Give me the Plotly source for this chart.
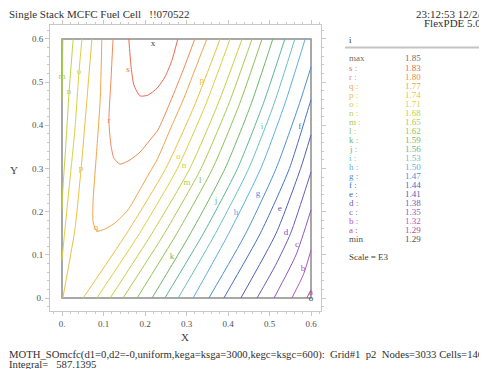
import plotly.graph_objects as go

# ---------------- data ----------------
level_names = ["a", "b", "c", "d", "e", "f", "g", "h", "i", "j",
               "k", "l", "m", "n", "o", "p", "q", "r", "s"]
level_values = [1.29, 1.32, 1.35, 1.38, 1.41, 1.44, 1.47, 1.50, 1.53, 1.56,
                1.59, 1.62, 1.65, 1.68, 1.71, 1.74, 1.77, 1.80, 1.83]
max_value = 1.85
min_value = 1.29

x_tick_vals = [0, 0.1, 0.2, 0.3, 0.4, 0.5, 0.6]
x_tick_text = ["0.", "0.1", "0.2", "0.3", "0.4", "0.5", "0.6"]
y_tick_vals = [0, 0.1, 0.2, 0.3, 0.4, 0.5, 0.6]
y_tick_text = ["0.", "0.1", "0.2", "0.3", "0.4", "0.5", "0.6"]

# contour paths (x, y)
s_x = [0.161, 0.166, 0.173, 0.188, 0.207, 0.229, 0.248, 0.265, 0.279]
s_y = [0.600, 0.540, 0.494, 0.468, 0.470, 0.486, 0.512, 0.551, 0.600]
r_x = [0.123, 0.118, 0.113, 0.118, 0.125, 0.140, 0.164, 0.188, 0.212, 0.231, 0.263, 0.292, 0.320]
r_y = [0.600, 0.505, 0.410, 0.354, 0.324, 0.310, 0.320, 0.338, 0.366, 0.389, 0.459, 0.528, 0.600]
q_x = [0.096, 0.092, 0.082, 0.075, 0.075, 0.084, 0.104, 0.128, 0.159, 0.183, 0.212, 0.229, 0.260, 0.292, 0.320, 0.349]
q_y = [0.600, 0.459, 0.320, 0.227, 0.176, 0.155, 0.160, 0.174, 0.204, 0.243, 0.292, 0.320, 0.389, 0.459, 0.528, 0.600]
p_left_x = [0.072, 0.060, 0.046, 0.031, 0.012, 0.002]
p_left_y = [0.600, 0.459, 0.299, 0.158, 0.053, 0.000]
p_x = [0.381, 0.321, 0.250, 0.156, 0.051]
p_y = [0.600, 0.450, 0.300, 0.150, 0.000]
o_left_x = [0.048, 0.041, 0.031, 0.019, 0.007, 0.000]
o_left_y = [0.600, 0.524, 0.389, 0.273, 0.158, 0.088]
o_x = [0.405, 0.347, 0.278, 0.187, 0.084]
o_y = [0.600, 0.450, 0.300, 0.150, 0.000]
n_left_x = [0.027, 0.017, 0.010, 0.002, 0.000]
n_left_y = [0.600, 0.477, 0.366, 0.250, 0.204]
n_x = [0.434, 0.376, 0.308, 0.217, 0.116]
n_y = [0.600, 0.450, 0.300, 0.150, 0.000]
m_left_x = [0.002, 0.001, 0.000]
m_left_y = [0.600, 0.512, 0.459]
m_x = [0.458, 0.402, 0.335, 0.247, 0.147]
m_y = [0.600, 0.450, 0.300, 0.150, 0.000]
l_x = [0.482, 0.428, 0.363, 0.277, 0.181]
l_y = [0.600, 0.450, 0.300, 0.150, 0.000]
k_x = [0.508, 0.456, 0.393, 0.310, 0.217]
k_y = [0.600, 0.450, 0.300, 0.150, 0.000]
j_x = [0.537, 0.485, 0.423, 0.341, 0.248]
j_y = [0.600, 0.450, 0.300, 0.150, 0.000]
i_x = [0.561, 0.511, 0.450, 0.370, 0.280]
i_y = [0.600, 0.450, 0.300, 0.150, 0.000]
h_x = [0.586, 0.537, 0.479, 0.402, 0.316]
h_y = [0.600, 0.450, 0.300, 0.150, 0.000]
g_x = [0.600, 0.572, 0.516, 0.443, 0.354]
g_y = [0.535, 0.450, 0.300, 0.150, 0.000]
f_x = [0.600, 0.597, 0.548, 0.478, 0.390]
f_y = [0.459, 0.450, 0.300, 0.150, 0.000]
e_x = [0.600, 0.575, 0.516, 0.431]
e_y = [0.378, 0.300, 0.150, 0.000]
d_x = [0.600, 0.551, 0.514, 0.470]
d_y = [0.292, 0.150, 0.075, 0.000]
c_x = [0.600, 0.564, 0.511]
c_y = [0.204, 0.100, 0.000]
b_x = [0.600, 0.582, 0.554]
b_y = [0.111, 0.055, 0.000]
a_x = [0.600, 0.590]
a_y = [0.019, 0.000]

# label positions on the lines
label_names = ["s", "r", "q", "p", "p", "o", "o", "n", "n", "m", "m", "l",
               "k", "j", "i", "h", "g", "f", "e", "d", "c", "b", "a"]
label_x = [0.159, 0.113, 0.082, 0.046, 0.337, 0.041, 0.280, 0.017, 0.294, 0.000, 0.301, 0.333,
           0.265, 0.371, 0.482, 0.419, 0.472, 0.573, 0.525, 0.540, 0.566, 0.581, 0.600]
label_y = [0.528, 0.410, 0.162, 0.299, 0.503, 0.524, 0.327, 0.477, 0.306, 0.512, 0.266, 0.271,
           0.095, 0.225, 0.396, 0.197, 0.241, 0.396, 0.206, 0.151, 0.123, 0.067, 0.012]
max_pos = (0.219, 0.588)
min_pos = (0.600, -0.002)

# ---------------- styling ----------------
colors = {
    "s": "#f06848", "r": "#f08a58", "q": "#f0a448", "p": "#ecc040", "o": "#dcd040",
    "n": "#c4d044", "m": "#a8cc50", "l": "#8cc454", "k": "#6cb864", "j": "#5cb890",
    "i": "#68c0c0", "h": "#5cb0e0", "g": "#4c90d4", "f": "#4470c4", "e": "#5060b4",
    "d": "#7058c0", "c": "#9058c0", "b": "#b058b8", "a": "#c04898",
}
FONT = "Liberation Serif"
W, H = 487, 369
OFF = 8                          # page body margin that the browser adds
L, R, T, B = 50, 321, 25, 311    # outer frame in page pixels


def paper_x(p):
    return (p - L) / (R - L)


def paper_y(p):
    return (B - p) / (B - T)


paths = [
    ("s", s_x, s_y), ("r", r_x, r_y), ("q", q_x, q_y),
    ("p", p_left_x, p_left_y), ("p", p_x, p_y),
    ("o", o_left_x, o_left_y), ("o", o_x, o_y),
    ("n", n_left_x, n_left_y), ("n", n_x, n_y),
    ("m", m_left_x, m_left_y), ("m", m_x, m_y),
    ("l", l_x, l_y), ("k", k_x, k_y), ("j", j_x, j_y), ("i", i_x, i_y),
    ("h", h_x, h_y), ("g", g_x, g_y), ("f", f_x, f_y), ("e", e_x, e_y),
    ("d", d_x, d_y), ("c", c_x, c_y), ("b", b_x, b_y), ("a", a_x, a_y),
]

fig = go.Figure()
for name, xs, ys in paths:
    fig.add_trace(go.Scatter(x=xs, y=ys, mode="lines",
                             line=dict(color=colors[name], width=1, shape="spline", smoothing=0.6),
                             hoverinfo="skip", showlegend=False))

fig.add_trace(go.Scatter(x=label_x, y=label_y, mode="text", text=label_names,
                         textfont=dict(family=FONT, size=9, color=[colors[n] for n in label_names]),
                         hoverinfo="skip", showlegend=False))
fig.add_trace(go.Scatter(x=[max_pos[0], min_pos[0]], y=[max_pos[1], min_pos[1]], mode="text", text=["x", "o"],
                         textfont=dict(family=FONT, size=9, color="#404040"),
                         hoverinfo="skip", showlegend=False))

# inner domain box
fig.add_shape(type="rect", x0=0, y0=0, x1=0.6, y1=0.6, xref="x", yref="y",
              line=dict(color="#8c8c8c", width=1.5), layer="below")

axis_common = dict(showline=True, mirror="ticks", linecolor="#c8c8c8", linewidth=1,
                   ticks="outside", ticklen=4, tickcolor="#c8c8c8",
                   showgrid=False, zeroline=False,
                   tickfont=dict(family=FONT, size=9, color="#505050"),
                   minor=dict(dtick=0.02, ticks="outside", ticklen=2, tickcolor="#c8c8c8"))

fig.update_xaxes(range=[(L - 62) / 415, (R - 62) / 415], tickvals=x_tick_vals, ticktext=x_tick_text,
                 **axis_common)
fig.update_yaxes(range=[(298 - B) / 431.7, (298 - T) / 431.7], tickvals=y_tick_vals, ticktext=y_tick_text,
                 **axis_common)

ann = []


def text(px, py, s, size=9, color="#404040", anchor="left"):
    ann.append(dict(x=paper_x(px), y=paper_y(py), xref="paper", yref="paper", text=s, showarrow=False,
                    xanchor=anchor, yanchor="middle", font=dict(family=FONT, size=size, color=color)))


text(7, 14, "Single Stack MCFC Fuel Cell   !!070522", size=11, color="#303030")
text(414, 14, "23:12:53 12/2/22", size=11, color="#303030")
text(422, 23, "FlexPDE 5.0.12", size=11, color="#303030")
text(185, 337, "X", size=11, color="#404040", anchor="center")
text(14, 170, "Y", size=11, color="#404040", anchor="center")
text(7, 354, "MOTH_SOmcfc(d1=0,d2=-0,uniform,kega=ksga=3000,kegc=ksgc=600):  Grid#1  p2  Nodes=3033 Cells=1460",
     size=10.7, color="#303030")
text(7, 364, "Integral=   587.1395", size=10.7, color="#303030")

# legend block
text(347, 40, "i", size=9, color="#404040")
legend_labels = ["max"] + [n + " :" for n in reversed(level_names)] + ["min"]
legend_values = [max_value] + list(reversed(level_values)) + [min_value]
legend_colors = ["#707070"] + [colors[n] for n in reversed(level_names)] + ["#505050"]
for idx, (lab, val, col) in enumerate(zip(legend_labels, legend_values, legend_colors)):
    py = 58.5 + idx * 9.03
    text(347, py, lab, size=9, color=col)
    text(403, py, f"{val:.2f}", size=9, color=col)
text(347, 257, "Scale = E3", size=9, color="#404040")

fig.add_shape(type="line", xref="paper", yref="paper", x0=paper_x(345), x1=paper_x(500),
              y0=paper_y(47.5), y1=paper_y(47.5), line=dict(color="#c4c4c4", width=2))

fig.update_layout(width=W, height=H,
                  margin=dict(l=L - OFF, r=W - (R - OFF), t=T - OFF, b=H - (B - OFF)),
                  paper_bgcolor="white", plot_bgcolor="white", annotations=ann)

fig.write_html("out.html")
